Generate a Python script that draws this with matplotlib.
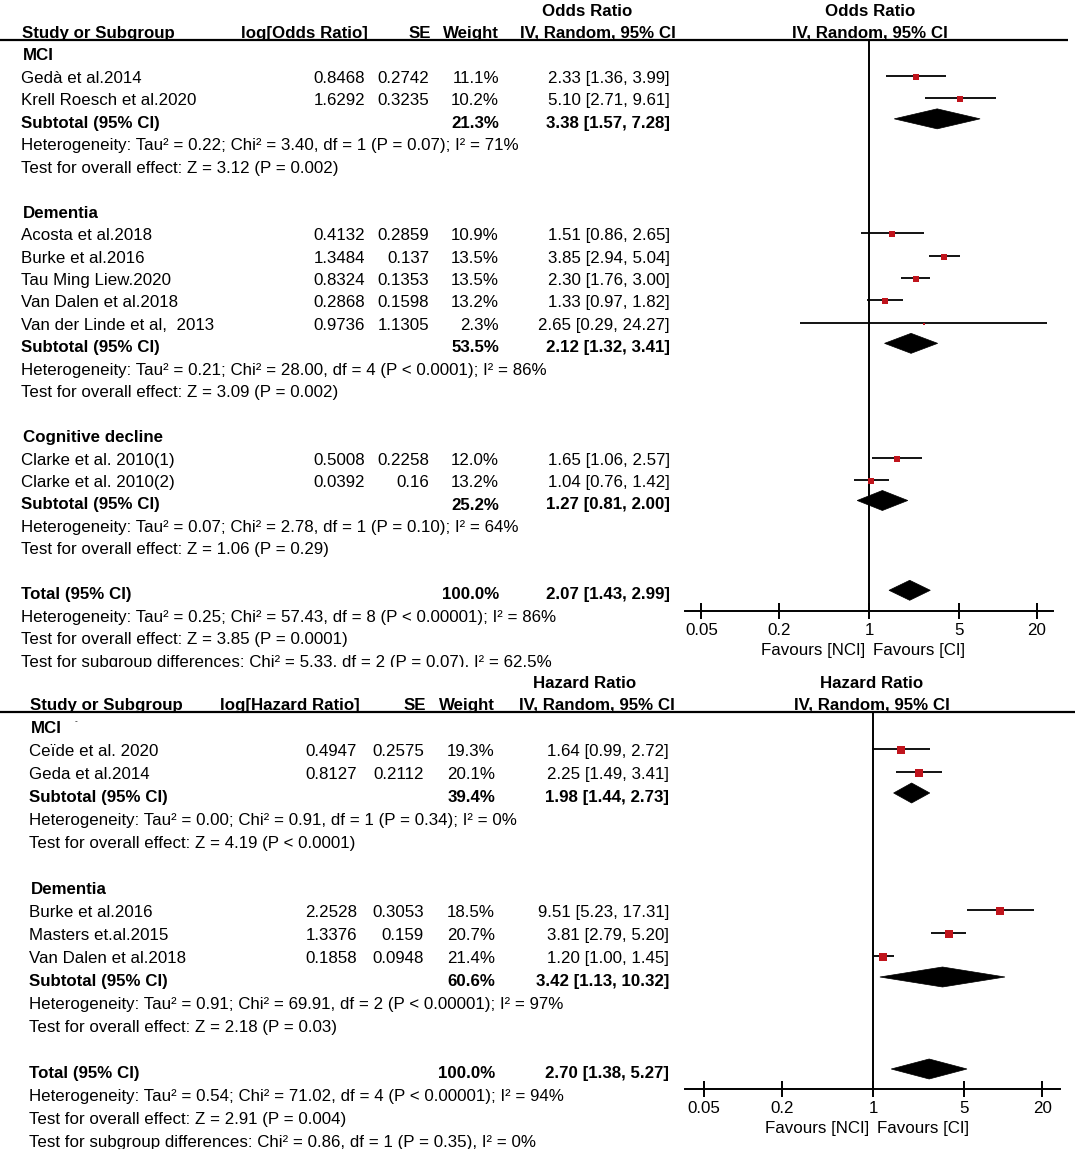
import matplotlib
matplotlib.use("Agg")
import matplotlib.pyplot as plt
from matplotlib.patches import Polygon, Rectangle

plt.rcParams['font.family'] = ['Liberation Sans', 'DejaVu Sans']

W, H = 1084, 1149
FS = 12.2
BASE = 6  # baseline offset below the row centre, px
RED = "#c0141c"

# ---- Odds ratio panel data ----
or_groups = ["MCI", "Dementia", "Cognitive decline"]
or_study = ["Gedà et al.2014", "Krell Roesch et al.2020",
            "Acosta et al.2018", "Burke et al.2016", "Tau Ming Liew.2020",
            "Van Dalen et al.2018", "Van der Linde et al,  2013",
            "Clarke et al. 2010(1)", "Clarke et al. 2010(2)"]
or_group_of = [0, 0, 1, 1, 1, 1, 1, 2, 2]
or_log = ["0.8468", "1.6292", "0.4132", "1.3484", "0.8324", "0.2868", "0.9736", "0.5008", "0.0392"]
or_se = ["0.2742", "0.3235", "0.2859", "0.137", "0.1353", "0.1598", "1.1305", "0.2258", "0.16"]
or_weight = [11.1, 10.2, 10.9, 13.5, 13.5, 13.2, 2.3, 12.0, 13.2]
or_est = [2.33, 5.10, 1.51, 3.85, 2.30, 1.33, 2.65, 1.65, 1.04]
or_lo = [1.36, 2.71, 0.86, 2.94, 1.76, 0.97, 0.29, 1.06, 0.76]
or_hi = [3.99, 9.61, 2.65, 5.04, 3.00, 1.82, 24.27, 2.57, 1.42]
or_sub_weight = [21.3, 53.5, 25.2]
or_sub_est = [3.38, 2.12, 1.27]
or_sub_lo = [1.57, 1.32, 0.81]
or_sub_hi = [7.28, 3.41, 2.00]
or_sub_het = ["Heterogeneity: Tau² = 0.22; Chi² = 3.40, df = 1 (P = 0.07); I² = 71%",
              "Heterogeneity: Tau² = 0.21; Chi² = 28.00, df = 4 (P < 0.0001); I² = 86%",
              "Heterogeneity: Tau² = 0.07; Chi² = 2.78, df = 1 (P = 0.10); I² = 64%"]
or_sub_z = ["Test for overall effect: Z = 3.12 (P = 0.002)",
            "Test for overall effect: Z = 3.09 (P = 0.002)",
            "Test for overall effect: Z = 1.06 (P = 0.29)"]
or_total = [2.07, 1.43, 2.99]
or_total_text = ["Heterogeneity: Tau² = 0.25; Chi² = 57.43, df = 8 (P < 0.00001); I² = 86%",
                 "Test for overall effect: Z = 3.85 (P = 0.0001)",
                 "Test for subgroup differences: Chi² = 5.33, df = 2 (P = 0.07), I² = 62.5%"]

# ---- Hazard ratio panel data ----
hr_groups = ["MCI", "Dementia"]
hr_study = ["Ceïde et al. 2020", "Geda et al.2014",
            "Burke et al.2016", "Masters et.al.2015", "Van Dalen et al.2018"]
hr_group_of = [0, 0, 1, 1, 1]
hr_log = ["0.4947", "0.8127", "2.2528", "1.3376", "0.1858"]
hr_se = ["0.2575", "0.2112", "0.3053", "0.159", "0.0948"]
hr_weight = [19.3, 20.1, 18.5, 20.7, 21.4]
hr_est = [1.64, 2.25, 9.51, 3.81, 1.20]
hr_lo = [0.99, 1.49, 5.23, 2.79, 1.00]
hr_hi = [2.72, 3.41, 17.31, 5.20, 1.45]
hr_sub_weight = [39.4, 60.6]
hr_sub_est = [1.98, 3.42]
hr_sub_lo = [1.44, 1.13]
hr_sub_hi = [2.73, 10.32]
hr_sub_het = ["Heterogeneity: Tau² = 0.00; Chi² = 0.91, df = 1 (P = 0.34); I² = 0%",
              "Heterogeneity: Tau² = 0.91; Chi² = 69.91, df = 2 (P < 0.00001); I² = 97%"]
hr_sub_z = ["Test for overall effect: Z = 4.19 (P < 0.0001)",
            "Test for overall effect: Z = 2.18 (P = 0.03)"]
hr_total = [2.70, 1.38, 5.27]
hr_total_text = ["Heterogeneity: Tau² = 0.54; Chi² = 71.02, df = 4 (P < 0.00001); I² = 94%",
                 "Test for overall effect: Z = 2.91 (P = 0.004)",
                 "Test for subgroup differences: Chi² = 0.86, df = 1 (P = 0.35), I² = 0%"]

ticks = [0.05, 0.2, 1, 5, 20]
tick_labels = ["0.05", "0.2", "1", "5", "20"]


def ci(e, lo, hi):
    return f"{e:.2f} [{lo:.2f}, {hi:.2f}]"


fig = plt.figure(figsize=(W / 100, H / 100), dpi=100)
ax = fig.add_axes([0, 0, 1, 1])
ax.set_xlim(0, W)
ax.set_ylim(H, 0)
ax.axis("off")


def txt(x, y, s, ha="left", bold=False, **kw):
    ax.text(x, y + BASE, s, ha=ha, va="baseline", fontsize=FS,
            weight="bold" if bold else "normal", **kw)


def panel(cfg):
    # cfg holds layout for one meta-analysis block
    y0, step, xl = cfg["y0"], cfg["step"], cfg["xl"]
    cols = cfg["cols"]
    # forest axes shares the pixel y-range of the page
    fx0, fx1 = cfg["fx"]
    fa = fig.add_axes([fx0 / W, 0, (fx1 - fx0) / W, 1])
    fa.patch.set_alpha(0)
    fa.set_xscale("log")
    fa.set_xlim(*cfg["xlim"])
    fa.set_ylim(H, 0)
    for s in ["top", "left", "right"]:
        fa.spines[s].set_visible(False)
    fa.spines["bottom"].set_position(("data", cfg["axis_y"]))
    fa.spines["bottom"].set_linewidth(1.4)
    fa.set_yticks([])
    fa.set_xticks(ticks)
    fa.set_xticklabels(tick_labels, fontsize=FS)
    fa.minorticks_off()
    fa.tick_params(axis="x", direction="inout", length=11, width=1.4, pad=3)
    fa.vlines(1, cfg["line_y"], cfg["axis_y"], color="black", lw=1.4)
    fa.text(0.93, cfg["axis_y"] + 44, "Favours [NCI]", ha="right", va="baseline", fontsize=FS)
    fa.text(1.08, cfg["axis_y"] + 44, "Favours [CI]", ha="left", va="baseline", fontsize=FS)

    # headers
    hy1, hy2 = cfg["line_y"] - 30, cfg["line_y"] - 8
    txt(cols["hdr_c"], hy1, cfg["name"], ha="center", bold=True)
    txt(cfg["rhdr"], hy1, cfg["name"], ha="center", bold=True)
    txt(xl + 1, hy2, "Study or Subgroup", bold=True)
    txt(cols["log"] + 3, hy2, cfg["log_hdr"], ha="right", bold=True)
    txt(cols["se"] + 2, hy2, "SE", ha="right", bold=True)
    txt(cols["w"], hy2, "Weight", ha="right", bold=True)
    txt(cols["ci"] + 6, hy2, "IV, Random, 95% CI", ha="right", bold=True)
    txt(cfg["rhdr"], hy2, "IV, Random, 95% CI", ha="center", bold=True)
    ax.hlines(cfg["line_y"], 0, cfg["line_end"], color="black", lw=1.6)

    def diamond(e, lo, hi, y):
        fa.add_patch(Polygon([(lo, y), (e, y - 10), (hi, y), (e, y + 10)],
                             closed=True, facecolor="black", edgecolor="black", lw=0.5))

    n = 0
    d = cfg["data"]
    for g, gname in enumerate(d["groups"]):
        y = y0 + n * step
        txt(xl + 2, y, gname, bold=True)
        n += 1
        for i in [k for k, gg in enumerate(d["group_of"]) if gg == g]:
            y = y0 + n * step
            txt(xl, y, d["study"][i])
            txt(cols["log"], y, d["log"][i], ha="right")
            txt(cols["se"], y, d["se"][i], ha="right")
            txt(cols["w"], y, f"{d['weight'][i]:.1f}%", ha="right")
            txt(cols["ci"], y, ci(d["est"][i], d["lo"][i], d["hi"][i]), ha="right")
            fa.hlines(y - 1, d["lo"][i], d["hi"][i], color="black", lw=1.3)
            side = 1.75 * d["weight"][i] ** 0.5
            fa.plot(d["est"][i], y, marker="s", ms=side * 0.72, color=RED, mec=RED, mew=0)
            n += 1
        y = y0 + n * step
        txt(xl, y, "Subtotal (95% CI)", bold=True)
        txt(cols["w"], y, f"{d['sub_weight'][g]:.1f}%", ha="right", bold=True)
        txt(cols["ci"], y, ci(d["sub_est"][g], d["sub_lo"][g], d["sub_hi"][g]), ha="right", bold=True)
        diamond(d["sub_est"][g], d["sub_lo"][g], d["sub_hi"][g], y - 3)
        n += 1
        txt(xl, y0 + n * step, d["sub_het"][g])
        n += 1
        txt(xl, y0 + n * step, d["sub_z"][g])
        n += 2
    y = y0 + n * step
    t = d["total"]
    txt(xl, y, "Total (95% CI)", bold=True)
    txt(cols["w"], y, "100.0%", ha="right", bold=True)
    txt(cols["ci"], y, ci(*t), ha="right", bold=True)
    diamond(t[0], t[1], t[2], y - 3)
    for line in d["total_text"]:
        n += 1
        txt(xl, y0 + n * step, line)


panel(dict(
    name="Odds Ratio", log_hdr="log[Odds Ratio]", y0=54.5, step=22.45, xl=21,
    cols=dict(log=365, se=429, w=499, ci=670, hdr_c=587),
    fx=(685, 1053), xlim=(0.0373, 26.8), axis_y=611, line_y=40, line_end=1068, rhdr=870,
    data=dict(groups=or_groups, study=or_study, group_of=or_group_of, log=or_log, se=or_se,
              weight=or_weight, est=or_est, lo=or_lo, hi=or_hi, sub_weight=or_sub_weight,
              sub_est=or_sub_est, sub_lo=or_sub_lo, sub_hi=or_sub_hi, sub_het=or_sub_het,
              sub_z=or_sub_z, total=or_total, total_text=or_total_text),
))

# the last line of the upper block is cut in the source figure
ax.add_patch(Rectangle((0, 667), 684, 5, facecolor="white", edgecolor="none", zorder=5))

panel(dict(
    name="Hazard Ratio", log_hdr="log[Hazard Ratio]", y0=727, step=23.0, xl=29,
    cols=dict(log=357, se=424, w=495, ci=669, hdr_c=585),
    fx=(685, 1060), xlim=(0.036, 27.3), axis_y=1089, line_y=712, line_end=1075, rhdr=872,
    data=dict(groups=hr_groups, study=hr_study, group_of=hr_group_of, log=hr_log, se=hr_se,
              weight=hr_weight, est=hr_est, lo=hr_lo, hi=hr_hi, sub_weight=hr_sub_weight,
              sub_est=hr_sub_est, sub_lo=hr_sub_lo, sub_hi=hr_sub_hi, sub_het=hr_sub_het,
              sub_z=hr_sub_z, total=hr_total, total_text=hr_total_text),
))
# small stray mark next to the MCI label in the source
ax.text(76, 722, "-", ha="center", va="center", fontsize=6)

fig.savefig("out.png", dpi=100)
